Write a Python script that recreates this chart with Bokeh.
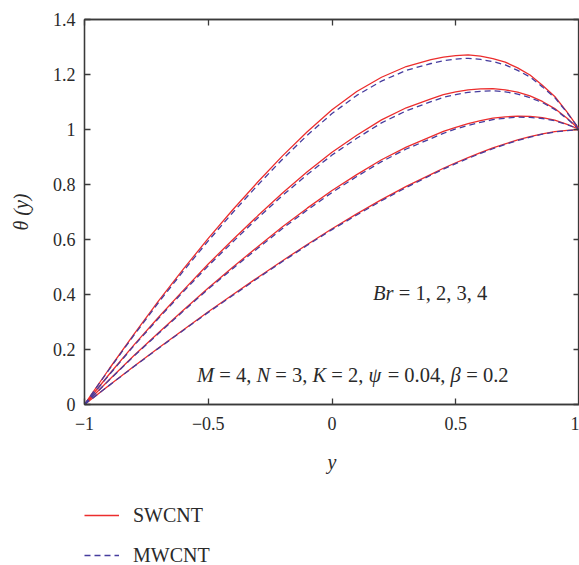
from bokeh.plotting import figure
from bokeh.layouts import column
from bokeh.models import LinearAxis, FixedTicker, Legend, LegendItem, Range1d, Label
from bokeh.embed import file_html
from bokeh.resources import INLINE

# ---------------- data ----------------
y_pos = [-1.0, -0.9, -0.8, -0.7, -0.6, -0.5, -0.4, -0.3, -0.2, -0.1, 0.0,
         0.1, 0.2, 0.3, 0.4, 0.45, 0.5, 0.55, 0.6, 0.65, 0.7, 0.75, 0.8, 0.85,
         0.9, 0.95, 1.0]

swcnt_br1 = [0, 0.070, 0.139, 0.206, 0.272, 0.337, 0.400, 0.462, 0.523, 0.582, 0.639,
             0.693, 0.745, 0.793, 0.837, 0.859, 0.879, 0.898, 0.916, 0.933, 0.948,
             0.962, 0.974, 0.984, 0.992, 0.997, 1.0]
swcnt_br2 = [0, 0.090, 0.178, 0.262, 0.344, 0.424, 0.500, 0.574, 0.646, 0.714, 0.778,
             0.836, 0.890, 0.936, 0.974, 0.993, 1.008, 1.021, 1.032, 1.041, 1.046,
             1.049, 1.048, 1.043, 1.034, 1.019, 1.0]
swcnt_br3 = [0, 0.110, 0.217, 0.318, 0.416, 0.511, 0.600, 0.686, 0.769, 0.846, 0.917,
             0.979, 1.035, 1.079, 1.111, 1.127, 1.137, 1.144, 1.148, 1.149, 1.144,
             1.136, 1.122, 1.102, 1.076, 1.041, 1.0]
swcnt_br4 = [0, 0.130, 0.256, 0.378, 0.493, 0.604, 0.709, 0.809, 0.904, 0.992, 1.072,
             1.138, 1.190, 1.229, 1.254, 1.263, 1.269, 1.271, 1.267, 1.258, 1.245,
             1.224, 1.198, 1.161, 1.120, 1.063, 1.0]

mwcnt_br1 = [0, 0.0695, 0.138, 0.205, 0.270, 0.335, 0.397, 0.459, 0.520, 0.579, 0.636,
             0.689, 0.741, 0.789, 0.834, 0.856, 0.876, 0.895, 0.913, 0.930, 0.946,
             0.960, 0.972, 0.983, 0.991, 0.996, 1.0]
mwcnt_br2 = [0, 0.089, 0.176, 0.259, 0.340, 0.420, 0.495, 0.568, 0.640, 0.707, 0.771,
             0.829, 0.883, 0.929, 0.967, 0.986, 1.002, 1.015, 1.026, 1.036, 1.041,
             1.045, 1.044, 1.040, 1.032, 1.018, 1.0]
mwcnt_br3 = [0, 0.108, 0.214, 0.314, 0.411, 0.504, 0.592, 0.678, 0.760, 0.836, 0.907,
             0.968, 1.024, 1.068, 1.101, 1.117, 1.127, 1.135, 1.139, 1.141, 1.137,
             1.129, 1.116, 1.098, 1.073, 1.039, 1.0]
mwcnt_br4 = [0, 0.128, 0.252, 0.372, 0.486, 0.595, 0.699, 0.798, 0.892, 0.979, 1.058,
             1.124, 1.176, 1.215, 1.240, 1.250, 1.256, 1.259, 1.255, 1.247, 1.235,
             1.215, 1.191, 1.155, 1.116, 1.061, 1.0]

x_ticks = [-1, -0.5, 0, 0.5, 1]
x_tick_labels = ["\u22121", "\u22120.5", "0", "0.5", "1"]
y_ticks = [0, 0.2, 0.4, 0.6, 0.8, 1, 1.2, 1.4]
y_tick_labels = ["0", "0.2", "0.4", "0.6", "0.8", "1", "1.2", "1.4"]

series_names = ["SWCNT", "MWCNT"]

# ---------------- style ----------------
RED = "#ec2d2d"
BLUE = "#463c9e"
AX = "#3a3a3a"
TXT = "#2a2a2a"
FONT = "Liberation Serif"

p = figure(width=579, height=490, output_backend="svg", toolbar_location=None,
           x_range=Range1d(-1, 1), y_range=Range1d(0, 1.4),
           x_axis_location=None, y_axis_location=None,
           min_border_left=84, min_border_right=0, min_border_top=19,
           min_border_bottom=86)
p.grid.visible = False
p.outline_line_color = AX
p.outline_line_width = 1.3
p.background_fill_color = "white"
p.border_fill_color = "white"


def style_axis(ax, ticks, labels, show_labels):
    ax.ticker = FixedTicker(ticks=ticks)
    ax.axis_line_color = AX
    ax.axis_line_width = 1.3
    ax.major_tick_line_color = AX
    ax.major_tick_line_width = 1.3
    ax.major_tick_in = 6
    ax.major_tick_out = 0
    ax.minor_tick_line_color = None
    ax.major_label_text_font = FONT
    if show_labels:
        ax.major_label_overrides = dict(zip(ticks, labels))
        ax.major_label_text_font_size = "18px"
        ax.major_label_text_color = TXT
    else:
        ax.major_label_text_font_size = "0px"
        ax.major_label_text_color = None
        ax.major_label_standoff = 0


left = LinearAxis()
style_axis(left, y_ticks, y_tick_labels, True)
left.major_label_standoff = 9
left.axis_label = "\u03b8 (y)"
left.axis_label_text_font = FONT
left.axis_label_text_font_style = "italic"
left.axis_label_text_font_size = "20px"
left.axis_label_text_color = TXT
left.axis_label_standoff = 18

bottom = LinearAxis()
style_axis(bottom, x_ticks, x_tick_labels, True)
bottom.major_label_standoff = 12
bottom.axis_label = "y"
bottom.axis_label_text_font = FONT
bottom.axis_label_text_font_style = "italic"
bottom.axis_label_text_font_size = "20px"
bottom.axis_label_text_color = TXT
bottom.axis_label_standoff = 18

top = LinearAxis()
style_axis(top, x_ticks, x_tick_labels, False)
right = LinearAxis()
style_axis(right, y_ticks, y_tick_labels, False)

p.add_layout(left, "left")
p.add_layout(bottom, "below")
p.add_layout(top, "above")
p.add_layout(right, "right")

sw_list = [swcnt_br1, swcnt_br2, swcnt_br3, swcnt_br4]
mw_list = [mwcnt_br1, mwcnt_br2, mwcnt_br3, mwcnt_br4]
for sw in sw_list:
    p.line(y_pos, sw, line_color=RED, line_width=1.3)
for mw in mw_list:
    p.line(y_pos, mw, line_color=BLUE, line_width=1.3, line_dash="6 4")

# ---------------- annotations (mixed italic / regular) ----------------
FS = 20.5
REG_W = {' ': 250, '=': 564, ',': 250, '.': 250}
for d in "0123456789":
    REG_W[d] = 500
IT_W = {'M': 833, 'N': 667, 'K': 667, 'B': 611, 'r': 389,
        '\u03c8': 686, '\u03b2': 520}


def text_width(s, italic):
    tab = IT_W if italic else REG_W
    return sum(tab.get(c, 500) for c in s) * FS / 1000.0


def mixed_label(x, y, segments):
    off = 0.0
    for s, italic in segments:
        stripped = s.lstrip(' ')
        off += text_width(s[:len(s) - len(stripped)], italic)
        core = stripped.rstrip(' ')
        p.add_layout(Label(x=x, y=y, x_offset=off, text=core,
                           text_font=FONT, text_font_size=f"{FS}px",
                           text_font_style="italic" if italic else "normal",
                           text_color=TXT, text_baseline="middle",
                           text_align="left"))
        off += text_width(stripped, italic)


mixed_label(0.166, 0.404, [("Br", True), (" = 1, 2, 3, 4", False)])
mixed_label(-0.545, 0.1055, [("M", True), (" = 4, ", False), ("N", True), (" = 3, ", False),
                             ("K", True), (" = 2, ", False), ("\u03c8", True),
                             (" = 0.04, ", False), ("\u03b2", True), (" = 0.2", False)])

# ---------------- legend strip below the plot ----------------
leg = figure(width=579, height=75, output_backend="svg", toolbar_location=None,
             x_range=Range1d(-1, 1), y_range=Range1d(0, 1.4),
             x_axis_location=None, y_axis_location=None,
             min_border=0, outline_line_color=None)
leg.grid.visible = False
leg.border_fill_color = "white"
r_sw = leg.line(y_pos, swcnt_br1, line_color=RED, line_width=1.3, visible=False)
r_mw = leg.line(y_pos, mwcnt_br1, line_color=BLUE, line_width=1.3, line_dash="6 4",
                visible=False)
legend = Legend(items=[LegendItem(label=series_names[0], renderers=[r_sw]),
                       LegendItem(label=series_names[1], renderers=[r_mw])],
                location=(0, -2), orientation="vertical", click_policy="none",
                glyph_width=35, glyph_height=24, label_height=24, spacing=16,
                padding=0, margin=0, label_standoff=14,
                label_text_font=FONT, label_text_font_size="20px",
                label_text_color=TXT, border_line_color=None,
                background_fill_alpha=0)
leg.add_layout(legend)

layout = column(p, leg, spacing=0)
open("out.html", "w").write(file_html(layout, INLINE))
